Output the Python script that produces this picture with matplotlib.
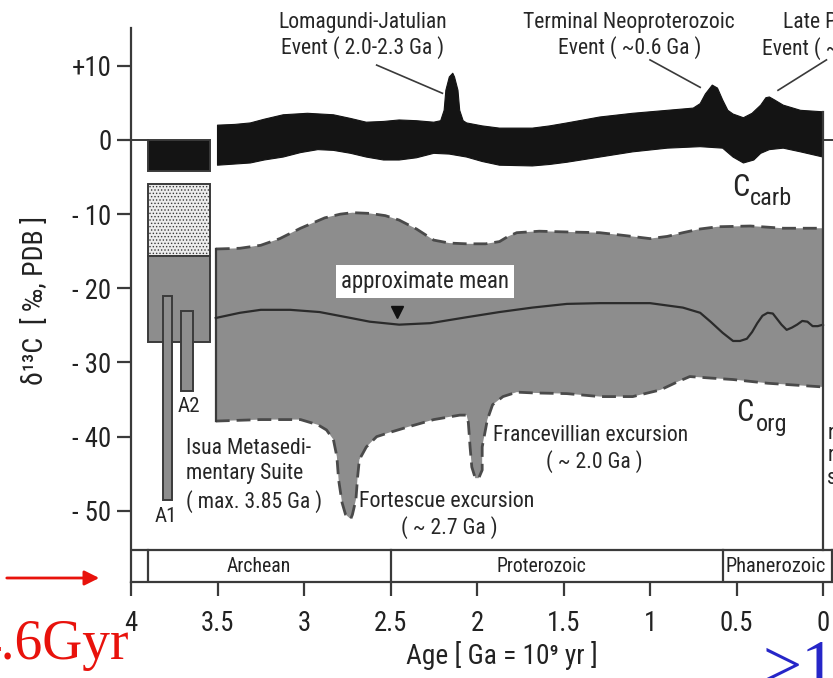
import os
import matplotlib
matplotlib.use("Agg")
import matplotlib.pyplot as plt
from matplotlib.patches import Rectangle, FancyArrowPatch
from matplotlib import font_manager as fm
import numpy as np

# ---------------- data (age in Ga, delta13C in permil) ----------------
carb_up_age = [3.50, 3.40, 3.31, 3.23, 3.12, 2.98, 2.83, 2.73, 2.64, 2.54, 2.45, 2.35, 2.25,
               2.21, 2.19, 2.18, 2.16, 2.14, 2.13, 2.11, 2.10, 2.08, 2.06, 1.97, 1.87, 1.68,
               1.58, 1.48, 1.29, 1.10, 0.90, 0.75, 0.71, 0.68, 0.64, 0.61, 0.58, 0.55, 0.52,
               0.46, 0.41, 0.36, 0.33, 0.31, 0.28, 0.23, 0.13, 0.0]
carb_up = [2.0, 2.1, 2.3, 2.8, 3.4, 3.6, 3.4, 2.9, 2.4, 2.5, 2.7, 2.6, 2.4,
           2.6, 4.0, 6.7, 8.5, 9.0, 8.5, 6.7, 4.0, 2.6, 2.3, 1.9, 1.6, 1.6,
           1.9, 2.3, 3.1, 3.6, 4.0, 4.3, 4.9, 6.2, 7.4, 7.0, 5.4, 4.0, 3.5,
           3.0, 3.6, 4.7, 5.7, 5.8, 5.4, 4.7, 4.0, 3.8]
carb_lo_age = [3.50, 3.31, 3.23, 3.12, 3.02, 2.92, 2.83, 2.73, 2.64, 2.54, 2.45, 2.35, 2.25,
               2.16, 2.06, 1.97, 1.87, 1.68, 1.58, 1.48, 1.29, 1.10, 0.90, 0.71, 0.58, 0.52,
               0.46, 0.40, 0.36, 0.31, 0.23, 0.13, 0.0]
carb_lo = [-3.4, -3.1, -2.7, -2.3, -1.7, -1.3, -1.4, -1.8, -2.3, -2.7, -2.7, -2.4, -1.8,
           -1.9, -2.3, -2.9, -3.4, -3.5, -3.3, -3.0, -2.3, -1.6, -1.1, -0.9, -1.1, -2.3,
           -3.1, -2.7, -1.8, -1.3, -1.1, -1.6, -2.3]

org_up_age = [3.51, 3.37, 3.25, 3.14, 3.02, 2.88, 2.79, 2.72, 2.62, 2.53, 2.45, 2.35, 2.25,
              2.16, 2.06, 1.95, 1.87, 1.82, 1.77, 1.64, 1.48, 1.29, 1.14, 1.00, 0.90, 0.81,
              0.71, 0.61, 0.42, 0.23, 0.0]
org_up = [-14.7, -14.6, -14.2, -13.3, -11.9, -10.5, -10.0, -9.8, -9.9, -10.2, -10.8, -12.0,
          -13.5, -13.9, -14.0, -14.0, -13.7, -13.0, -12.5, -12.3, -12.4, -12.5, -12.9, -13.3,
          -13.0, -12.5, -12.0, -11.7, -11.6, -11.9, -11.9]
org_lo_age = [3.51, 3.25, 3.02, 2.92, 2.87, 2.83, 2.81, 2.80, 2.78, 2.76, 2.73, 2.72, 2.70,
              2.69, 2.68, 2.64, 2.58, 2.50, 2.40, 2.25, 2.10, 2.06, 2.05, 2.04, 2.03, 2.01,
              1.99, 1.97, 1.97, 1.94, 1.91, 1.85, 1.77, 1.68, 1.48, 1.29, 1.10, 0.94, 0.84,
              0.77, 0.65, 0.52, 0.32, 0.0]
org_lo = [-37.9, -37.7, -37.7, -38.4, -39.1, -40.4, -42.7, -45.8, -48.9, -50.5, -51.1, -50.5,
          -48.5, -45.4, -43.1, -41.4, -40.0, -39.4, -38.7, -37.7, -37.1, -37.1, -38.1, -41.4,
          -44.1, -45.6, -45.6, -44.5, -41.4, -37.7, -35.7, -34.6, -34.0, -34.1, -34.2, -34.6,
          -34.6, -33.7, -32.6, -31.9, -32.1, -32.3, -32.8, -33.3]

mean_age = [3.51, 3.37, 3.25, 3.08, 2.91, 2.73, 2.62, 2.45, 2.27, 2.06, 1.87, 1.68, 1.48,
            1.29, 1.00, 0.81, 0.71, 0.65, 0.58, 0.52, 0.48, 0.44, 0.41, 0.38, 0.35, 0.32,
            0.29, 0.27, 0.24, 0.21, 0.18, 0.15, 0.12, 0.09, 0.06, 0.03, 0.0]
mean_val = [-24.0, -23.3, -22.9, -22.9, -23.2, -24.0, -24.5, -24.9, -24.7, -23.9, -23.2,
            -22.6, -22.1, -22.0, -22.0, -22.6, -23.3, -24.5, -26.0, -27.1, -27.1, -26.8,
            -25.9, -24.7, -23.7, -23.3, -23.4, -24.0, -24.9, -25.6, -25.3, -24.9, -24.4,
            -24.5, -25.1, -25.1, -24.9]

# Isua boxes: (age_old, age_young, low, high)
isua_carb = (3.90, 3.545, -4.2, 0.0)
isua_stip = (3.90, 3.545, -15.6, -5.9)
isua_org = (3.90, 3.545, -27.2, -15.6)
bar_A1 = (3.815, 3.763, -48.5, -21.1)
bar_A2 = (3.71, 3.64, -33.9, -23.0)

eons = ['Archean', 'Proterozoic', 'Phanerozoic']
eon_bounds = [3.90, 2.50, 0.58, -0.052]

xticks = [4, 3.5, 3, 2.5, 2, 1.5, 1, 0.5, 0]
xticklabels = ['4', '3.5', '3', '2.5', '2', '1.5', '1', '0.5', '0']
yticks = [10, 0, -10, -20, -30, -40, -50]
yticklabels = ['+10', '0', '- 10', '- 20', '- 30', '- 40', '- 50']

# ---------------- fonts: prefer a condensed sans if one is installed ----------------
def pick_condensed():
    order = ['Liberation Sans Narrow', 'Arial Narrow', 'Roboto Condensed', 'DejaVu Sans Condensed',
             'DejaVu Sans', 'Noto Sans', 'Open Sans Condensed', 'Open Sans', 'Roboto', 'Lato', 'Inter']
    found = []
    for f in fm.fontManager.ttflist:
        base = os.path.basename(f.fname).lower()
        cond = (f.stretch in ('condensed', 'semi-condensed', 'extra-condensed')
                or 'narrow' in f.name.lower() or 'condensed' in f.name.lower()
                or 'condensed' in base or 'narrow' in base)
        if cond and f.style == 'normal' and 'mono' not in f.name.lower() \
                and 'serif' not in f.name.lower() and 'cjk' not in f.name.lower():
            found.append(f)
    best = None
    for nm in order:
        for f in found:
            if f.name == nm and f.weight in (400, 'normal', 'regular', 'book'):
                best = f
                break
        if best:
            break
    if best is None and found:
        best = found[0]
    return best

cf = pick_condensed()
if cf is not None:
    SANS = [cf.name, 'Liberation Sans', 'DejaVu Sans']
    plt.rcParams['font.stretch'] = cf.stretch
else:
    SANS = ['Liberation Sans', 'DejaVu Sans']
plt.rcParams['font.family'] = SANS

# ---------------- figure ----------------
W, H = 833, 678
fig = plt.figure(figsize=(W / 100, H / 100), dpi=100)
renderer = fig.canvas.get_renderer()

# scale font sizes so the reference's label widths are matched
_t = fig.text(0, 0, 'Lomagundi-Jatulian', fontsize=17)
_w = _t.get_window_extent(renderer).width
_t.remove()
k = 169.0 / _w
def fs(v):
    return v * k

x4, x0 = 131.0, 823.0
ppg = (x0 - x4) / 4.0
a_right = -0.35
ytop_px, ybot_px = 28.0, 582.0
ax = fig.add_axes([x4 / W, (H - ybot_px) / H, (x0 - x4 + (-a_right) * ppg) / W,
                   (ybot_px - ytop_px) / H])
ax.set_xlim(4.0, a_right)
ax.set_ylim(-59.6, 15.1)

EDGE = '#3a3a3a'
GRAY = '#8d8d8d'
for s in ['top', 'right']:
    ax.spines[s].set_visible(False)
for s in ['left', 'bottom']:
    ax.spines[s].set_color(EDGE)
    ax.spines[s].set_linewidth(1.6)

tick_fs = max(fs(21), 18.5)
ax.set_xticks(xticks)
ax.set_xticklabels(xticklabels, fontsize=tick_fs, color='#222')
ax.set_yticks(yticks)
ax.set_yticklabels(yticklabels, fontsize=tick_fs, color='#222')
ax.tick_params(axis='both', direction='out', length=10, width=1.6, color=EDGE)
ax.tick_params(axis='x', pad=10)
ax.tick_params(axis='y', pad=4)

# Ccarb band
ax.fill(np.r_[carb_up_age, carb_lo_age[::-1]], np.r_[carb_up, carb_lo[::-1]],
        color='#141414', lw=0.8, ec='#141414', joinstyle='round', zorder=3)

# Corg band
ax.fill(np.r_[org_up_age, org_lo_age[::-1]], np.r_[org_up, org_lo[::-1]],
        color=GRAY, lw=0, zorder=2)
ax.plot(org_up_age, org_up, color='#4a4a4a', lw=2.0, ls=(0, (5, 2.5)), zorder=3)
ax.plot(org_lo_age, org_lo, color='#4a4a4a', lw=2.0, ls=(0, (5, 2.5)), zorder=3)
ax.plot([org_up_age[0], org_lo_age[0]], [org_up[0], org_lo[0]], color=EDGE, lw=1.6, zorder=3)
ax.plot(mean_age, mean_val, color='#2b2b2b', lw=1.6, zorder=4)

plt.rcParams['hatch.color'] = '#b5b5b5'
plt.rcParams['hatch.linewidth'] = 0.6

def box(b, fc, hatch=None, z=3):
    a0, a1, lo, hi = b
    ax.add_patch(Rectangle((a1, lo), a0 - a1, hi - lo, facecolor=fc, edgecolor=EDGE, lw=1.4,
                           hatch=hatch, zorder=z))

box(isua_carb, '#141414')
box(isua_stip, '#ececec', hatch='.....')
box(isua_org, GRAY)
box(bar_A1, GRAY, z=4)
box(bar_A2, GRAY, z=4)

# zero-line stub near the axis and the right-hand panel edge
ax.plot([4.0, 3.90], [0, 0], color=EDGE, lw=1.4, zorder=3)
ax.plot([0, 0], [-55.3, 3.8], color=EDGE, lw=1.6, zorder=5)
ax.plot([0, -0.06], [0, 0], color=EDGE, lw=1.4, zorder=5)

# time-scale bar
ax.plot([4.0, a_right], [-55.3, -55.3], color=EDGE, lw=1.6, zorder=5)
for b in eon_bounds:
    ax.plot([b, b], [-59.6, -55.3], color=EDGE, lw=1.6, zorder=5)
ax.text(3.26, -57.5, eons[0], ha='center', va='center', fontsize=fs(15.5), color='#222')
ax.text(1.63, -57.5, eons[1], ha='center', va='center', fontsize=fs(15.5), color='#222')
ax.text(0.565, -57.5, eons[2], ha='left', va='center', fontsize=fs(16), color='#222')

# annotations
TXT = '#262626'
ax.text(2.66, 14.1, 'Lomagundi-Jatulian\nEvent ( 2.0-2.3 Ga )', ha='center', va='center',
        fontsize=fs(17), color=TXT, linespacing=1.2, clip_on=False)
ax.plot([2.58, 2.20], [10.1, 6.3], color=EDGE, lw=1.2)
ax.text(1.12, 14.1, 'Terminal Neoproterozoic\nEvent ( ~0.6 Ga )', ha='center', va='center',
        fontsize=fs(17), color=TXT, linespacing=1.2, clip_on=False)
ax.plot([1.00, 0.71], [10.8, 7.1], color=EDGE, lw=1.2)
ax.text(0.23, 15.8, 'Late Paleozoic', ha='left', va='center', fontsize=fs(17), color=TXT,
        clip_on=False)
ax.text(0.355, 12.4, 'Event ( ~0.3 Ga )', ha='left', va='center', fontsize=fs(17), color=TXT,
        clip_on=False)
ax.plot([-0.02, 0.26], [10.8, 6.7], color=EDGE, lw=1.2)

ax.text(0.525, -6.4, 'C', ha='left', va='center', fontsize=fs(24), color=TXT)
ax.text(0.425, -7.9, 'carb', ha='left', va='center', fontsize=fs(19), color=TXT)
ax.text(0.50, -36.8, 'C', ha='left', va='center', fontsize=fs(24), color=TXT)
ax.text(0.39, -38.3, 'org', ha='left', va='center', fontsize=fs(19), color=TXT)

ax.text(2.30, -19.1, 'approximate mean', ha='center', va='center', fontsize=fs(18), color=TXT,
        zorder=6, bbox=dict(boxstyle='square,pad=0.22', fc='white', ec='none'))
ax.plot([2.46], [-23.2], marker='v', ms=9, color='#111', zorder=6)

ax.text(3.68, -45.2, 'Isua Metasedi-\nmentary Suite\n( max. 3.85 Ga )', ha='left',
        va='center', fontsize=fs(17), color=TXT, linespacing=1.3)
ax.text(3.80, -50.8, 'A1', ha='center', va='center', fontsize=fs(16.5), color=TXT)
ax.text(3.665, -36.0, 'A2', ha='center', va='center', fontsize=fs(16.5), color=TXT)
ax.text(2.68, -48.8, 'Fortescue excursion', ha='left', va='center', fontsize=fs(17.3), color=TXT)
ax.text(2.16, -52.2, '( ~ 2.7 Ga )', ha='center', va='center', fontsize=fs(17), color=TXT)
ax.text(1.905, -39.8, 'Francevillian excursion', ha='left', va='center', fontsize=fs(17),
        color=TXT)
ax.text(1.32, -43.4, '( ~ 2.0 Ga )', ha='center', va='center', fontsize=fs(17), color=TXT)
ax.text(-0.025, -42.6, 'n\nn\ns', ha='left', va='center', fontsize=fs(17), color=TXT,
        linespacing=1.1)

# axis labels
fig.text(36 / W, 1 - 300 / H, 'δ¹³C  [ ‰, PDB ]', rotation=90, ha='center', va='center',
         fontsize=fs(22), color='#222')
fig.text(502 / W, 1 - 655 / H, 'Age [ Ga = 10⁹ yr ]', ha='center', va='center',
         fontsize=fs(21.5), color='#222')

# slide overlays
fig.add_artist(FancyArrowPatch((4 / W, 1 - 578 / H), (102 / W, 1 - 578 / H),
               transform=fig.transFigure, arrowstyle='-|>', mutation_scale=22,
               color='#e8120c', lw=2))
fig.text(129 / W, 1 - 645 / H, '4.6Gyr', ha='right', va='center', fontsize=40,
         family=['Liberation Serif', 'DejaVu Serif'], color='#e8120c')
fig.text(763 / W, 1 - 640 / H, '>1', ha='left', va='top', fontsize=50,
         family=['Liberation Serif', 'DejaVu Serif'], color='#2626c8')

fig.savefig('out.png', dpi=100)
